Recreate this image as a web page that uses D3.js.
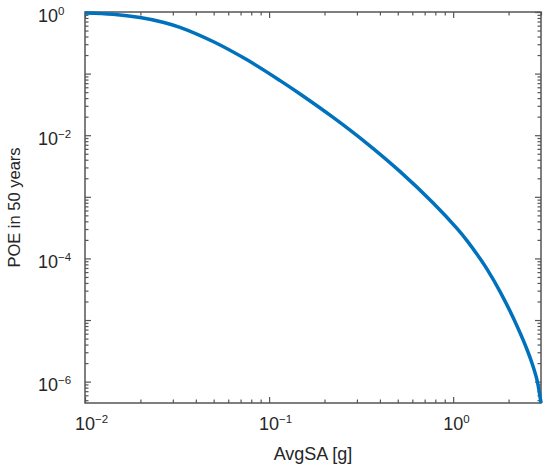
<!DOCTYPE html>
<html>
  <head>
    <meta charset="utf-8">
    <script src="https://d3js.org/d3.v7.min.js"></script>
    <style>
      body { margin: 0; background: #fff; }
      text { font-family: "Liberation Sans", Arial, sans-serif; fill: #262626; }
    </style>
  </head>
  <body>
    <div id="chart"></div>
    <script>
    // hazard curve
    var avgSA = [0.01, 0.0142, 0.0199, 0.0265, 0.0328, 0.0496, 0.0759, 0.1148, 0.1474, 0.2228,
                 0.3408, 0.5152, 0.7785, 1.051, 1.191, 1.402, 1.530, 1.800, 2.119, 2.525,
                 2.721, 2.861, 3.0];
    var poe = [0.9633, 0.916, 0.8116, 0.6833, 0.5647, 0.3323, 0.1674, 0.07696, 0.04664, 0.01943,
               0.007306, 0.002562, 7.937e-4, 3.04e-4, 1.928e-4, 9.858e-5, 6.624e-5, 2.872e-5, 1.087e-5, 3.264e-6,
               1.742e-6, 1.032e-6, 4.5e-7];
    var xTickLabels = [{v: 0.01, e: "\u22122"}, {v: 0.1, e: "\u22121"}, {v: 1, e: "0"}];
    var yTickLabels = [{v: 1, e: "0"}, {v: 1e-2, e: "\u22122"}, {v: 1e-4, e: "\u22124"}, {v: 1e-6, e: "\u22126"}];
    var xLabel = "AvgSA [g]";
    var yLabel = "POE in 50 years";

    var W = 550, H = 471;
    var margin = {top: 12, right: 9, bottom: 68, left: 85},
      width = W - margin.left - margin.right,
      height = H - margin.top - margin.bottom;

    var svg = d3.select("#chart").append("svg")
      .attr("width", W).attr("height", H);
    var g = svg.append("g")
      .attr("transform", "translate(" + margin.left + "," + margin.top + ")");

    var x = d3.scaleLog().domain([0.01, 3]).range([0, width]);
    var y = d3.scaleLog().domain([4.5e-7, 1]).range([height, 0]);

    function isDecade(d) { return Math.abs(Math.log10(d) - Math.round(Math.log10(d))) < 1e-9; }
    var xMajor = x.ticks().filter(isDecade);
    var xMinor = x.ticks().filter(function (d) { return !isDecade(d); });
    var yMajor = y.ticks().filter(isDecade);
    var yMinor = y.ticks().filter(function (d) { return !isDecade(d); });

    // inward ticks on all four sides
    function addTicks(axisFn, scale, vals, size, transform) {
      var a = g.append("g").attr("transform", transform)
        .call(axisFn(scale).tickValues(vals).tickSize(-size).tickFormat(""));
      a.select(".domain").remove();
      a.selectAll("line").attr("stroke", "#555").attr("stroke-width", 1.2);
    }
    addTicks(d3.axisBottom, x, xMajor, 6, "translate(0," + height + ")");
    addTicks(d3.axisBottom, x, xMinor, 3.5, "translate(0," + height + ")");
    addTicks(d3.axisTop, x, xMajor, 6, "translate(0,0)");
    addTicks(d3.axisTop, x, xMinor, 3.5, "translate(0,0)");
    addTicks(d3.axisLeft, y, yMajor, 6, "translate(0,0)");
    addTicks(d3.axisLeft, y, yMinor, 3.5, "translate(0,0)");
    addTicks(d3.axisRight, y, yMajor, 6, "translate(" + width + ",0)");
    addTicks(d3.axisRight, y, yMinor, 3.5, "translate(" + width + ",0)");

    // frame
    g.append("rect")
      .attr("width", width).attr("height", height)
      .attr("fill", "none").attr("stroke", "#555").attr("stroke-width", 1.5);

    // tick labels with superscripts
    var xl = g.selectAll(".xlab").data(xTickLabels).enter().append("text")
      .attr("class", "xlab")
      .attr("x", function (d) { return x(d.v) - 10; })
      .attr("y", height + 27)
      .style("font-size", "18px");
    xl.append("tspan").text("10");
    xl.append("tspan").attr("dy", -7).style("font-size", "11.5px").text(function (d) { return d.e; });

    var yl = g.selectAll(".ylab").data(yTickLabels).enter().append("text")
      .attr("class", "ylab")
      .attr("x", 38 - margin.left)
      .attr("y", function (d) { return y(d.v) + 9.5; })
      .style("font-size", "18px");
    yl.append("tspan").text("10");
    yl.append("tspan").attr("dy", -7).style("font-size", "11.5px").text(function (d) { return d.e; });

    // axis titles
    svg.append("text")
      .attr("x", margin.left + width / 2).attr("y", 460)
      .attr("text-anchor", "middle")
      .style("font-size", "18px")
      .text(xLabel);
    svg.append("text")
      .attr("transform", "translate(20," + (margin.top + height / 2) + ") rotate(-90)")
      .attr("text-anchor", "middle")
      .style("font-size", "16.5px")
      .text(yLabel);

    // the curve
    var line = d3.line()
      .x(function (d, i) { return x(avgSA[i]); })
      .y(function (d, i) { return y(poe[i]); })
      .curve(d3.curveCatmullRom.alpha(0.5));
    g.append("path")
      .datum(poe)
      .attr("fill", "none")
      .attr("stroke", "#0072BD")
      .attr("stroke-width", 3.5)
      .attr("stroke-linejoin", "round")
      .attr("d", line);
    </script>
  </body>
</html>
